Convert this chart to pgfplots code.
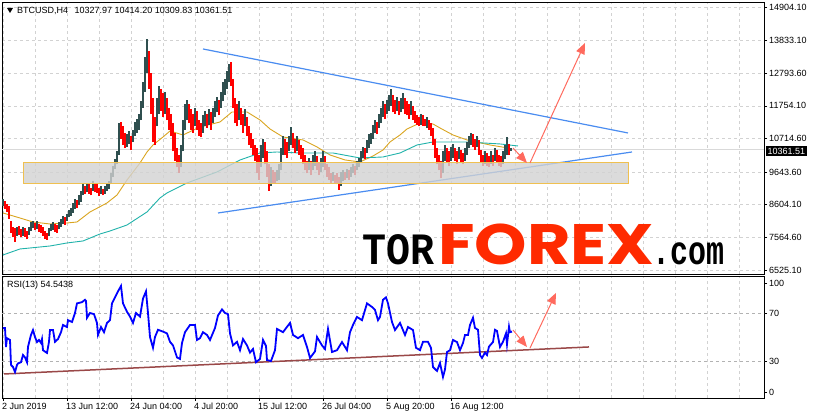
\documentclass[border=0pt]{standalone}
\usepackage{fontspec}
\setmainfont{Liberation Sans}
\newfontfamily\monofont{Liberation Mono}
\newfontfamily\forexfont{Poppins}
\usepackage{graphicx}
\usepackage{pgfplots}
\usepackage{pgfplotstable}
\pgfplotsset{compat=1.18}
\usetikzlibrary{arrows.meta}

\definecolor{bull}{HTML}{2F4F4F}
\definecolor{bear}{HTML}{FF0000}
\definecolor{emaor}{HTML}{DAA520}
\definecolor{smateal}{HTML}{20B2AA}
\definecolor{trendblue}{HTML}{4A8CF0}
\definecolor{arrowred}{HTML}{FF6A5E}
\definecolor{rsibrown}{HTML}{9A4848}
\definecolor{zonefill}{HTML}{D2D2D2}
\definecolor{zoneedge}{HTML}{EFC050}
\definecolor{wmred}{HTML}{FF2A00}

% H4 bars: x = bar position, lo/hi = low/high, d = 1 up, 0 down
\pgfplotstableread{
x lo hi d
3 8560 8780 1
5 8480 8720 0
7 8380 8640 0
9 8150 8560 0
11 7700 8100 0
13 7560 7900 0
15 7420 7850 0
17 7600 7880 1
19 7650 7920 0
21 7560 7830 0
23 7620 7900 1
25 7580 7850 0
27 7500 7780 0
29 7650 7900 1
31 7780 8050 1
33 7850 8100 1
35 7800 8020 0
37 7830 8080 1
39 7740 7980 0
41 7700 7950 0
43 7620 7900 0
45 7520 7780 0
47 7480 7700 0
49 7600 7850 1
51 7760 8000 1
53 7800 8050 1
55 7750 7980 0
57 7700 7950 0
59 7820 8060 1
61 7900 8150 1
63 7980 8250 1
65 7950 8200 0
67 8080 8320 1
69 8200 8450 1
71 8250 8500 1
73 8350 8650 1
75 8480 8780 1
77 8500 8750 0
79 8600 8900 1
81 8700 9050 1
83 8900 9280 1
85 8950 9200 0
87 9000 9300 1
89 8950 9250 0
91 8900 9150 0
93 9050 9350 1
95 9000 9300 0
97 8980 9250 0
99 8880 9150 0
101 8950 9200 1
103 8900 9100 0
105 8950 9200 1
107 9050 9300 1
109 9100 9350 1
111 9250 9600 1
113 9500 9850 1
115 9750 10050 1
117 9900 10300 1
119 10200 11200 1
121 10700 11250 0
123 10500 11100 0
125 10400 10900 0
127 10450 10850 1
129 10550 10950 1
131 10350 10800 0
133 10600 11000 1
135 10800 11250 1
137 10900 11350 1
139 11000 11500 1
141 11300 11900 1
143 11700 12500 1
145 12200 13300 1
147 12800 13880 1
149 12300 13500 0
151 11500 12800 0
153 10600 12000 0
155 10500 11400 0
157 11100 12000 1
159 11500 12400 1
161 11600 12300 0
163 11400 12150 0
165 11500 12200 1
167 11300 12000 0
169 11000 11700 0
171 10800 11500 0
173 10300 11200 0
175 10000 10900 0
177 9800 10400 0
179 9620 10200 0
181 9800 10500 1
183 10300 11300 1
185 11000 11800 1
187 11300 11950 1
189 11200 11800 0
191 11000 11650 0
193 10900 11500 0
195 11100 11700 1
197 11000 11600 0
199 10800 11300 0
201 10750 11200 0
203 10900 11450 1
205 11100 11600 1
207 11050 11500 0
209 11150 11650 1
211 11000 11550 0
213 11200 11700 1
215 11400 11900 1
217 11550 12050 1
219 11450 11950 0
221 11700 12200 1
223 11900 12500 1
225 12100 12600 1
227 12300 12850 1
229 12500 13100 1
231 12400 13150 0
233 11700 12600 0
235 11200 12000 0
237 11100 11800 0
239 11300 11900 1
241 11150 11700 0
243 10900 11500 0
245 11100 11650 1
247 10800 11400 0
249 10500 11100 0
251 10400 10900 0
253 10200 10700 0
255 10000 10500 0
257 9600 10400 0
259 9400 10200 0
261 9800 10500 1
263 10100 10700 1
265 9900 10600 0
267 9500 10300 0
269 9050 9900 0
271 9200 9800 1
273 9300 9700 0
275 9300 9650 0
277 9350 9700 1
279 9400 9900 1
281 9700 10400 1
283 10200 10800 1
285 10200 10700 0
287 10100 10600 0
289 10300 10800 1
291 10500 11080 1
293 10400 10900 0
295 10250 10700 0
297 10300 10800 1
299 10200 10650 0
301 10050 10500 0
303 9900 10400 0
305 9700 10200 0
307 9600 10000 0
309 9700 10100 1
311 9550 10000 0
313 9700 10200 1
315 9850 10300 1
317 9700 10150 0
319 9550 9950 0
321 9650 10100 1
323 9800 10300 1
325 9700 10150 0
327 9500 9900 0
329 9400 9800 0
331 9300 9600 0
333 9350 9650 1
335 9300 9550 0
337 9250 9600 0
339 9080 9500 0
341 9200 9650 1
343 9350 9700 1
345 9400 9650 0
347 9450 9750 1
349 9400 9700 0
351 9500 9800 1
353 9600 9900 1
355 9550 9850 0
357 9700 10000 1
359 9800 10100 1
361 9950 10300 1
363 10100 10450 1
365 10050 10400 0
367 10250 10650 1
369 10400 10850 1
371 10550 10900 1
373 10700 11150 1
375 10900 11300 1
377 10850 11250 0
379 11050 11500 1
381 11200 11700 1
383 11400 11900 1
385 11350 11800 0
387 11500 11950 1
389 11600 12100 1
391 11750 12290 1
393 11550 12100 0
395 11500 11950 0
397 11600 12050 1
399 11450 11900 0
401 11550 12000 1
403 11650 12150 1
405 11500 12000 0
407 11450 11900 0
409 11350 11800 0
411 11450 11900 1
413 11300 11750 0
415 11200 11600 0
417 11150 11450 0
419 11100 11400 0
421 11150 11500 1
423 11120 11450 0
425 11100 11350 0
427 11050 11400 1
429 11000 11300 0
431 10800 11200 0
433 10500 11050 0
435 10100 10700 0
437 9900 10400 0
439 9700 10200 0
441 9450 10000 0
443 9600 10300 1
445 10000 10500 1
447 9950 10400 0
449 9850 10300 0
451 10000 10450 1
453 10100 10550 1
455 10000 10400 0
457 9900 10300 0
459 10050 10450 1
461 9950 10350 0
463 9900 10250 0
465 10000 10400 1
467 10200 10600 1
469 10400 10800 1
471 10500 10900 1
473 10450 10850 0
475 10350 10700 0
477 10450 10800 1
479 10200 10650 0
481 9950 10350 0
483 9850 10200 0
485 9900 10300 1
487 9850 10250 0
489 9800 10150 0
491 9900 10300 1
493 9850 10200 0
495 10000 10400 1
497 9950 10350 0
499 9850 10200 0
501 9800 10150 0
503 9900 10300 1
505 10050 10500 1
507 10200 10750 1
509 10200 10550 0
511 10309.83 10414.2 1
}\candles

\pgfplotsset{
  mt4/.style={
    scale only axis, width=762pt, xmin=2, xmax=764,
    axis line style={black, line width=0.8pt},
    grid style={gray!35, dash pattern=on 3pt off 3pt, line width=0.6pt},
    tick align=outside, major tick length=3pt, minor tick length=0pt,
    tick style={black, line width=0.6pt},
    ytick pos=right, yticklabel pos=right,
    scaled y ticks=false,
    tick label style={font=\fontsize{9}{10}\selectfont},
    yticklabel style={anchor=west, inner sep=0pt, xshift=2pt},
  },
}

\begin{document}
\begin{tikzpicture}
\useasboundingbox (0pt,0pt) rectangle (815pt,419pt);

% ---------- price panel ----------
\begin{axis}[mt4,
  name=price, at={(2pt,145pt)}, anchor=south west, height=272pt,
  ymin=6397, ymax=15063,
  xtick={3,35,...,739}, xticklabels={}, xmajorgrids, xtick style={draw=none},
  ytick={6525.1,7564.6,8604.1,9643.6,10714.6,11754.1,12793.6,13833.1,14904.1},
  yticklabels={6525.10,7564.60,8604.10,9643.60,10714.60,11754.10,12793.60,13833.10,14904.10},
  ymajorgrids,
]
% current price line
\addplot[gray!30, line width=0.8pt] coordinates {(2,10361.51) (764,10361.51)};
% moving averages
\addplot[emaor, line width=0.9pt] coordinates {
(3,8341)(20,8181)(33,8054)(50,7990)(67,8022)(77,8054)(90,8373)(107,8660)
(117,8914)(127,9392)(140,9934)(147,10284)(153,10507)(163,10762)(170,10953)
(183,10826)(200,11081)(220,11240)(232,11559)(247,11559)(260,11304)(270,11017)
(283,10762)(303,10667)(317,10444)(330,10189)(345,10030)(360,9966)(373,10157)
(383,10348)(390,10603)(400,10826)(407,11017)(420,11208)(433,11176)(440,11049)
(453,10826)(467,10667)(490,10507)(508,10412)};
\addplot[smateal, line width=0.9pt] coordinates {
(3,7003)(20,7194)(50,7289)(67,7385)(83,7449)(100,7672)(110,7767)(127,7958)
(147,8373)(160,8819)(167,8978)(187,9297)(217,9647)(240,10029)(260,10252)
(277,10284)(300,10252)(333,10252)(360,10093)(383,10125)(400,10252)(417,10507)
(433,10603)(467,10603)(500,10540)(518,10476)};
% candles
\addplot[bull, line width=1.2pt, quiver={u=0, v=\thisrow{hi}-\thisrow{lo}},
  restrict expr to domain={\thisrow{d}}{0.5:1.5}] table[x=x, y=lo] {\candles};
\addplot[bear, line width=1.2pt, quiver={u=0, v=\thisrow{hi}-\thisrow{lo}},
  restrict expr to domain={\thisrow{d}}{-0.5:0.5}] table[x=x, y=lo] {\candles};
% triangle
\addplot[trendblue, line width=1.2pt] coordinates {(203,13566) (628,10890)};
\addplot[trendblue, line width=1.2pt] coordinates {(218,8341) (632,10284)};
% support zone
\addplot[draw=zoneedge, line width=1pt, fill=zonefill, fill opacity=0.8]
  coordinates {(24,9265) (628,9265) (628,9934) (24,9934)} -- cycle;
% forecast arrows
\addplot[arrowred, line width=1pt, -{Triangle[length=11pt,width=9pt]}]
  coordinates {(513,10412) (527,9934)};
\addplot[arrowred, line width=1pt, -{Triangle[length=11pt,width=9pt]}]
  coordinates {(530,9934) (585,13757)};
\end{axis}

% ---------- RSI panel ----------
\begin{axis}[mt4,
  name=rsi, at={(2pt,21pt)}, anchor=south west, height=122pt,
  ymin=-0.8, ymax=100.8,
  xtick={3,67,...,451}, xtick pos=bottom,
  xticklabels={2 Jun 2019,13 Jun 12:00,24 Jun 04:00,4 Jul 20:00,15 Jul 12:00,26 Jul 04:00,5 Aug 20:00,16 Aug 12:00},
  xticklabel style={anchor=north west, inner sep=0pt, xshift=-1pt, yshift=-2pt},
  minor xtick={35,99,163,227,291,355,419,483,515,547,579,611,643,675,707,739},
  xmajorgrids, xminorgrids,
  ytick={4.2,30,70,95}, yticklabels={0,30,70,100},
]
\addplot[gray!60, line width=0.7pt, dash pattern=on 3pt off 3pt] coordinates {(2,30) (764,30)};
\addplot[gray!60, line width=0.7pt, dash pattern=on 3pt off 3pt] coordinates {(2,70) (764,70)};
\addplot[rsibrown, line width=1.5pt] coordinates {(4,19.2) (589,41.7)};
\addplot[blue, line width=1.8pt, line join=miter] coordinates {
(3,57.5)(5,57.5)(6,41.7)(7,49)(10,47.5)(11,26.7)(13,25)(15,20.8)(17,26.7)(18,28)
(21,29)(23,35)(25,33)(27,29)(28,41.7)(31,51.7)(33,55.8)(35,50)(37,45.8)(39,47.5)
(41,45)(42,48.3)(43,39)(47,36.7)(49,46)(50,55.8)(53,55.8)(55,46)(58,48.3)(61,54)
(63,60)(67,58.3)(68,64)(72,62.5)(75,70)(77,78)(82,79)(85,81)(86,80)(87,66)
(90,70)(94,69)(97,61.7)(98,51.7)(101,58.3)(104,54)(107,61.7)(110,64)(112,78)(115,83)
(118,88)(121,92.5)(123,78)(127,71)(130,67)(133,61.7)(136,70)(140,67)(143,82)(146,88)
(148,70)(150,50)(153,41)(155,50)(158,56)(163,54.5)(167,53)(170,46)(173,43)(177,33)
(180,31.7)(182,45)(185,54)(190,60)(195,60)(197,47.5)(200,49)(203,54)(207,51.7)(210,47.5)
(215,57.5)(218,68)(222,73)(225,70)(228,69)(230,53)(233,43)(237,46)(240,39)(243,48.3)
(247,43)(250,37)(253,40)(256,29)(260,31.7)(263,47.5)(266,42.5)(267,30.8)(271,30)(275,39)
(277,56.7)(283,54)(290,61.7)(293,51.7)(298,49)(303,51.7)(307,41.7)(310,32.5)(315,38)(317,50)
(322,43)(325,40)(328,56.7)(332,37.5)(337,39)(342,45.8)(347,39)(350,54)(353,60)(357,66.7)
(362,64)(367,78)(372,75)(375,72.5)(378,64)(380,66.7)(383,81)(386,83)(388,78)(392,62.5)
(395,55.8)(400,61.7)(405,51.7)(408,58.3)(413,55.8)(416,41)(420,39)(423,46)(428,46)(431,41)
(433,25)(437,21.7)(440,28.3)(443,16.7)(445,23)(447,37.5)(450,39)(453,47.5)(457,45.8)(460,39)
(463,45)(465,51.7)(468,51.7)(470,60)(473,66)(475,57.5)(478,56)(480,35)(482,32.5)(485,37)
(487,35)(489,42)(493,45.8)(495,56)(497,55)(500,41.7)(503,46)(506,53)(507,44)(509,58.6)
(510,54)(512,54.5)};
\addplot[arrowred, line width=1pt, -{Triangle[length=11pt,width=9pt]}]
  coordinates {(513,55.8) (527,41.7)};
\addplot[arrowred, line width=1pt, -{Triangle[length=11pt,width=9pt]}]
  coordinates {(530,40.8) (556,86.7)};
\end{axis}

% ---------- texts ----------
\fill[black] (7pt,411pt) -- (13pt,411pt) -- (10pt,406pt) -- cycle;
\node[anchor=west, inner sep=0pt, font=\fontsize{9}{10}\selectfont] at (17pt,408pt)
  {BTCUSD,H4\hspace{4pt} 10327.97 10414.20 10309.83 10361.51};
\node[anchor=west, inner sep=0pt, font=\fontsize{9}{10}\selectfont] at (7pt,134pt) {RSI(13) 54.5438};
\node[anchor=west, fill=black, text=white, inner xsep=1.5pt, inner ysep=1.5pt,
  font=\fontsize{9}{10}\selectfont] at (766pt,268pt) {10361.51};

% watermark
\node[anchor=base west, inner sep=0pt] at (362pt,154pt)
  {\scalebox{1}[1.12]{\monofont\bfseries\fontsize{40}{40}\selectfont TOR}};
\node[anchor=base west, inner sep=0pt, text=wmred] at (438pt,154pt)
  {\scalebox{1.17}[1]{\forexfont\bfseries\fontsize{57}{57}\selectfont FOREX}};
\node[anchor=base west, inner sep=0pt] at (652pt,154pt)
  {\scalebox{1}[1.35]{\monofont\bfseries\fontsize{30}{30}\selectfont .com}};
\end{tikzpicture}
\end{document}
